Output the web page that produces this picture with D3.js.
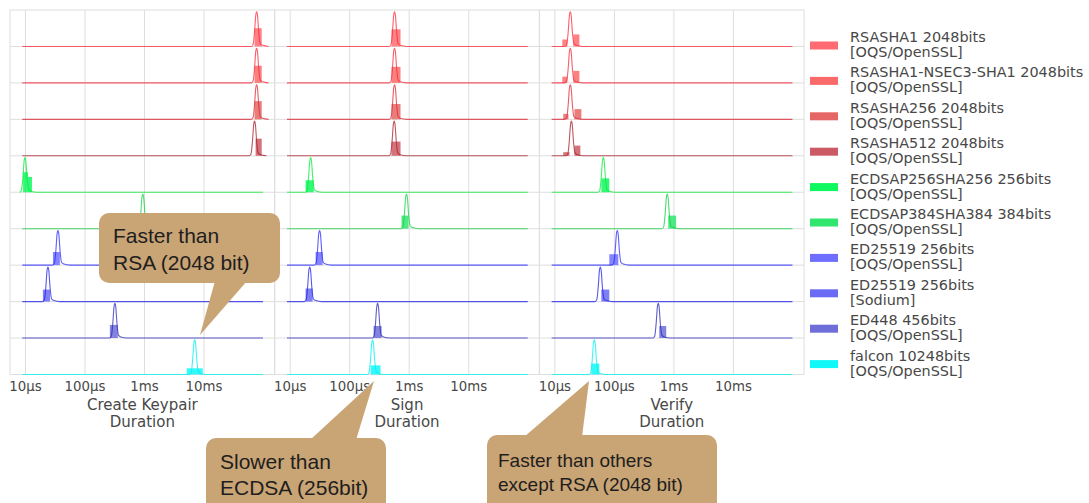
<!DOCTYPE html>
<html>
<head>
<meta charset="utf-8">
<script src="https://cdnjs.cloudflare.com/ajax/libs/d3/7.8.5/d3.min.js"></script>
<style>
  body { margin: 0; background: #fff; }
  svg { display: block; font-family: 'DejaVu Sans', sans-serif; }
</style>
</head>
<body>
<svg></svg>
<script>
const algorithms = [
    'RSASHA1 2048bits', 'RSASHA1-NSEC3-SHA1 2048bits', 'RSASHA256 2048bits', 'RSASHA512 2048bits',
    'ECDSAP256SHA256 256bits', 'ECDSAP384SHA384 384bits', 'ED25519 256bits', 'ED25519 256bits',
    'ED448 456bits', 'falcon 10248bits'
];
const libraries = [
    '[OQS/OpenSSL]', '[OQS/OpenSSL]', '[OQS/OpenSSL]', '[OQS/OpenSSL]', '[OQS/OpenSSL]',
    '[OQS/OpenSSL]', '[OQS/OpenSSL]', '[Sodium]', '[OQS/OpenSSL]', '[OQS/OpenSSL]'
];
const panelTitles = ['Create Keypair', 'Sign', 'Verify'];
const tickValues = [10, 100, 1000, 10000];
const tickLabels = ['10µs', '100µs', '1ms', '10ms'];

// peak of each duration distribution (µs)
const keypairPeaks = [78000, 78000, 78000, 72000, 10, 955, 35.8, 24.3, 324, 7110];
const signPeaks = [578, 578, 578, 570, 22.5, 918, 31.8, 21.7, 300, 247];
const verifyPeaks = [18.5, 18.5, 18.5, 19.3, 66.4, 787, 114, 59.1, 556, 46.9];

// histogram bars: [from µs, to µs, height relative to the row]
const keypairBars = [
    [[72000, 95000, 0.5]], [[72000, 95000, 0.47]], [[72000, 95000, 0.5]], [[75000, 95000, 0.47]],
    [[9.3, 11.2, 0.55], [11.2, 13.1, 0.42]], [[883, 1070, 0.3]], [[29.5, 38.6, 0.36]],
    [[20.0, 26.3, 0.33]], [[267, 363, 0.36]], [[5230, 9700, 0.17]]
];
const signBars = [
    [[514, 728, 0.47]], [[514, 728, 0.44]], [[514, 728, 0.42]], [[514, 728, 0.39]],
    [[18.5, 25.3, 0.33]], [[757, 993, 0.36]], [[27.3, 35.8, 0.36]],
    [[18.5, 24.3, 0.36]], [[257, 350, 0.33]], [[229, 336, 0.25]]
];
const verifyBars = [
    [[13.6, 16.5, 0.19], [20.8, 26.3, 0.33]], [[13.6, 16.5, 0.17], [20.8, 26.3, 0.33]],
    [[14.1, 17.2, 0.15], [21.7, 28.4, 0.28]], [[14.1, 17.9, 0.1], [21.7, 27.3, 0.28]],
    [[61.5, 83.7, 0.38]], [[818, 1110, 0.36]], [[83.7, 118.6, 0.3]],
    [[61.5, 83.7, 0.33]], [[578, 757, 0.33]], [[41.8, 56.9, 0.3]]
];

// density spike around the peak: decades from the peak, height relative to the row
const spikeOffsets = [-0.09, -0.06, -0.035, -0.015, 0, 0.015, 0.035, 0.06, 0.1, 0.2];
const spikeHeights = [0, 0.05, 0.4, 0.85, 0.95, 0.85, 0.4, 0.08, 0.03, 0];
const lineRange = [9, 100000];

const lineColors = ['#ff2a3a', '#f52a3a', '#dd2a35', '#a8202a', '#00ee33',
    '#10d040', '#2828ff', '#2020e8', '#2a2ab8', '#00f0f0'];
const fillColors = ['#ff6b70', '#fa6a6a', '#e66565', '#cc5a64', '#10f860',
    '#30e66e', '#6e6eff', '#6a6af5', '#6e6ed8', '#10f8f8'];

const width = 1089;
const height = 503;
const marginLeft = 10;
const marginTop = 10;
const panelW = 264.7;
const plotH = 364.5;
const rowH = plotH / algorithms.length;
const gridColor = '#dedede';
const textColor = '#484848';

const peaks = [keypairPeaks, signPeaks, verifyPeaks];
const bars = [keypairBars, signBars, verifyBars];

let svg = d3.select('svg')
    .attr('width', width)
    .attr('height', height)

let xScale = d3.scaleLog()
    .domain([5.6, 157000])
    .range([0, panelW])

let rowScale = d3.scaleLinear()
    .domain([0, algorithms.length])
    .range([0, plotH])

let line = d3.line()
    .x(d => xScale(d[0]))
    .y(d => d[1])
    .curve(d3.curveMonotoneX)

let drawPanel = (p) => {
    let g = svg.append('g')
        .attr('transform', 'translate(' + (marginLeft + p * panelW) + ',' + marginTop + ')')

    let xAxis = d3.axisBottom(xScale)
        .tickValues(tickValues)
        .tickFormat((d, i) => tickLabels[i])
        .tickSize(-plotH)
        .tickPadding(7)

    let axis = g.append('g')
        .attr('transform', 'translate(0,' + plotH + ')')
        .call(xAxis)
    axis.select('.domain').remove()
    axis.selectAll('line').attr('stroke', gridColor)
    axis.selectAll('text')
        .attr('fill', textColor)
        .style('font-size', '13.3px')
        .style('font-family', 'DejaVu Sans')

    g.selectAll('.hgrid')
        .data(algorithms)
        .enter()
        .append('line')
        .attr('class', 'hgrid')
        .attr('x1', 0)
        .attr('x2', panelW)
        .attr('y1', (d, i) => rowScale(i + 1))
        .attr('y2', (d, i) => rowScale(i + 1))
        .attr('stroke', gridColor)

    g.append('rect')
        .attr('width', panelW)
        .attr('height', plotH)
        .attr('fill', 'none')
        .attr('stroke', gridColor)

    algorithms.forEach((name, i) => {
        let yScale = d3.scaleLinear()
            .domain([0, 1])
            .range([rowScale(i + 1), rowScale(i + 1) - rowH])

        g.selectAll('.bar' + i)
            .data(bars[p][i])
            .enter()
            .append('rect')
            .attr('class', 'bar' + i)
            .attr('x', d => xScale(d[0]))
            .attr('width', d => xScale(d[1]) - xScale(d[0]))
            .attr('y', d => yScale(d[2]))
            .attr('height', d => yScale(0) - yScale(d[2]))
            .attr('fill', fillColors[i])
            .attr('opacity', 0.85)

        let peak = peaks[p][i];
        let points = spikeOffsets.map((o, k) => [peak * Math.pow(10, o), yScale(spikeHeights[k])]);
        if (lineRange[0] < points[0][0]) points.unshift([lineRange[0], yScale(0)]);
        if (lineRange[1] > points[points.length - 1][0]) points.push([lineRange[1], yScale(0)]);

        g.append('path')
            .attr('d', line(points))
            .attr('fill', 'none')
            .attr('stroke', lineColors[i])
            .attr('stroke-width', 1.1)
            .attr('opacity', 0.75)
    })

    let title = g.append('text')
        .attr('x', panelW / 2)
        .attr('text-anchor', 'middle')
        .attr('fill', textColor)
        .style('font-size', '15px')
    title.append('tspan').attr('x', panelW / 2).attr('y', plotH + 35.5).text(panelTitles[p])
    title.append('tspan').attr('x', panelW / 2).attr('y', plotH + 52.5).text('Duration')
}

let drawLegend = () => {
    let legend = svg.append('g')
        .attr('transform', 'translate(810,0)')

    algorithms.forEach((name, i) => {
        let y0 = 42 + i * 35.4;
        legend.append('rect')
            .attr('x', 0)
            .attr('y', y0 - 0.5)
            .attr('width', 28)
            .attr('height', 8)
            .attr('fill', fillColors[i])
        let t = legend.append('text')
            .attr('fill', textColor)
            .style('font-size', '14.4px')
        t.append('tspan').attr('x', 40).attr('y', y0).text(name)
        t.append('tspan').attr('x', 40).attr('y', y0 + 15).text(libraries[i])
    })
}

const callouts = [
    { box: [99, 213, 181, 70], tail: [[215, 281], [247, 281], [200, 335]], lines: ['Faster than', 'RSA (2048 bit)'],
      textX: 113, baselines: [243, 270], size: 21 },
    { box: [206, 438, 180, 80], tail: [[310, 440], [356, 440], [374, 381]], lines: ['Slower than', 'ECDSA (256bit)'],
      textX: 220, baselines: [469, 495], size: 21 },
    { box: [487, 435, 230, 80], tail: [[524, 437], [582, 437], [589, 381]], lines: ['Faster than others', 'except RSA (2048 bit)'],
      textX: 498, baselines: [467, 491], size: 19 }
];

let drawCallouts = () => {
    callouts.forEach(c => {
        let g = svg.append('g')
        g.append('rect')
            .attr('x', c.box[0])
            .attr('y', c.box[1])
            .attr('width', c.box[2])
            .attr('height', c.box[3])
            .attr('rx', 10)
            .attr('fill', '#c9a475')
        g.append('polygon')
            .attr('points', c.tail.map(p => p.join(',')).join(' '))
            .attr('fill', '#c9a475')
        c.lines.forEach((l, k) => {
            g.append('text')
                .attr('x', c.textX)
                .attr('y', c.baselines[k])
                .attr('fill', '#1e1e1e')
                .style('font-family', 'Liberation Sans, Arial, sans-serif')
                .style('font-size', c.size + 'px')
                .text(l)
        })
    })
}

panelTitles.forEach((t, p) => drawPanel(p));
drawLegend();
drawCallouts();
</script>
</body>
</html>
